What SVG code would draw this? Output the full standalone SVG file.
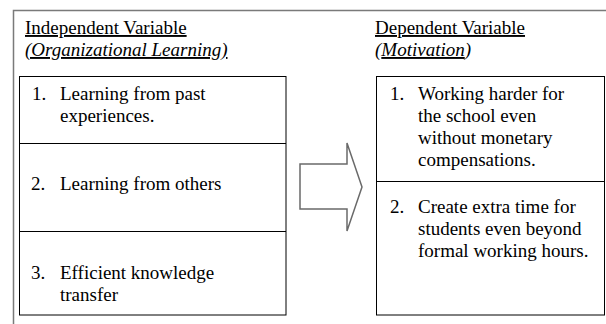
<svg xmlns="http://www.w3.org/2000/svg" width="606" height="324" viewBox="0 0 606 324">
  <style>
    text { font-family: "Liberation Serif", "Times New Roman", serif; font-size: 19px; fill: #000; }
    .u { text-decoration: underline; }
    .i { font-style: italic; }
    .box { fill: #fff; stroke: #000; stroke-width: 1; }
    .div { stroke: #000; stroke-width: 1; }
    .frame { fill: none; stroke: #7a7a7a; stroke-width: 1.5; }
    .arrow { fill: #fff; stroke: #6a6a6a; stroke-width: 1.5; stroke-linejoin: miter; }
  </style>
  <rect width="606" height="324" fill="#fff"/>

  <!-- outer frame edges -->
  <path class="frame" d="M13.5 324 V10.5 H606"/>

  <!-- independent variable column -->
  <g id="independent">
    <text x="25" y="34" class="u">Independent Variable</text>
    <text x="25" y="56" class="u i">(Organizational Learning) </text>
    <rect class="box" x="19.5" y="76.5" width="266.5" height="238.5"/>
    <line class="div" x1="19.5" y1="143.5" x2="286" y2="143.5"/>
    <line class="div" x1="19.5" y1="231.5" x2="286" y2="231.5"/>
  </g>
  <g id="ind-item-1">
    <text x="32" y="100">1.</text>
    <text x="60" y="100">Learning from past</text>
    <text x="60" y="122">experiences.</text>
  </g>
  <g id="ind-item-2">
    <text x="31" y="190">2.</text>
    <text x="60" y="190">Learning from others</text>
  </g>
  <g id="ind-item-3">
    <text x="31" y="279">3.</text>
    <text x="60" y="279">Efficient knowledge</text>
    <text x="60" y="301">transfer</text>
  </g>

  <!-- connector -->
  <g id="connectors">
    <polygon class="arrow" points="300,164 347,164 347,143 362,187 347,231 347,209 300,209"/>
  </g>

  <!-- dependent variable column -->
  <g id="dependent">
    <text x="375" y="34" class="u">Dependent Variable</text>
    <text x="375" y="56" class="i">(<tspan class="u">Motivation</tspan>)</text>
    <rect class="box" x="376.5" y="76.5" width="228" height="238.5"/>
    <line class="div" x1="376.5" y1="181.5" x2="604.5" y2="181.5"/>
  </g>
  <g id="dep-item-1">
    <text x="390" y="100">1.</text>
    <text x="418" y="100">Working harder for</text>
    <text x="418" y="122">the school even</text>
    <text x="418" y="144">without monetary</text>
    <text x="418" y="166">compensations.</text>
  </g>
  <g id="dep-item-2">
    <text x="390" y="213">2.</text>
    <text x="418" y="213">Create extra time for</text>
    <text x="418" y="235">students even beyond</text>
    <text x="418" y="257">formal working hours.</text>
  </g>
</svg>
